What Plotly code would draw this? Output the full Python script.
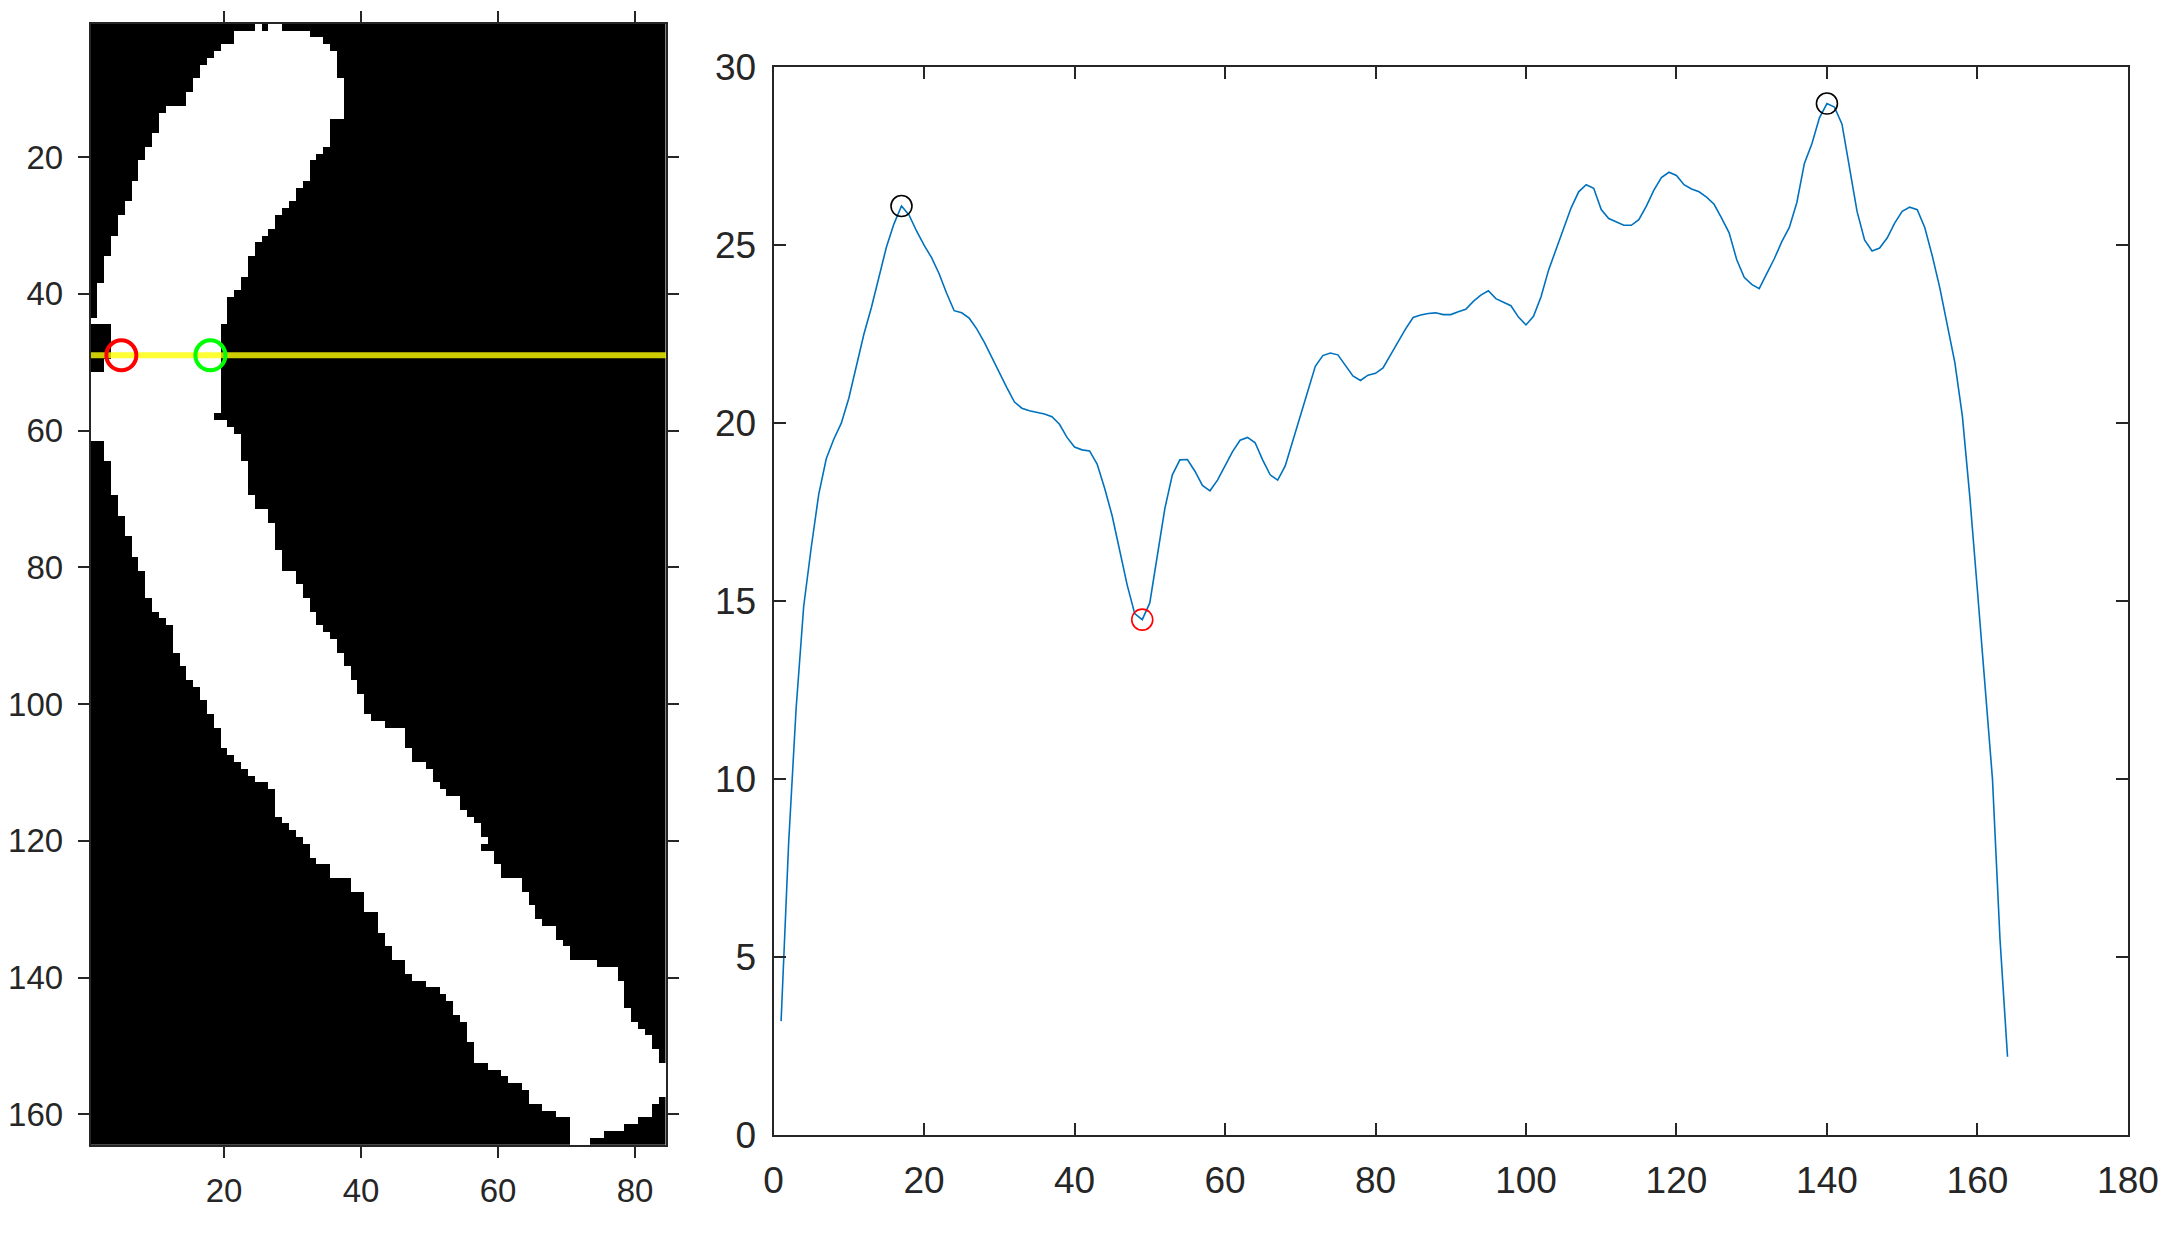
import numpy as np
import plotly.graph_objects as go

# ---------------- data: binary image (per-row white span, 1-based columns) ----------------
n_rows, n_cols = 164, 84
left_edge = [
    25, 22, 22, 20, 19, 18, 17, 17, 16, 16,
    15, 15, 12, 11, 11, 11, 10, 10, 9, 9,
    8, 8, 8, 7, 7, 7, 6, 6, 5, 5,
    5, 4, 4, 4, 3, 3, 3, 3, 2, 2,
    2, 2, 2, 1, 4, 4, 4, 4, 4, 3,
    3, 1, 1, 1, 1, 1, 1, 1, 1, 1,
    1, 3, 3, 3, 4, 4, 4, 4, 4, 5,
    5, 5, 6, 6, 6, 7, 7, 7, 8, 8,
    9, 9, 9, 9, 10, 10, 11, 12, 13, 13,
    13, 13, 14, 14, 15, 15, 16, 17, 17, 18,
    18, 19, 19, 20, 20, 20, 21, 22, 23, 24,
    25, 27, 28, 28, 28, 28, 29, 30, 31, 32,
    33, 33, 34, 36, 36, 39, 39, 41, 41, 41,
    43, 43, 43, 44, 44, 45, 45, 47, 47, 48,
    50, 52, 53, 54, 54, 55, 56, 56, 56, 57,
    57, 57, 59, 61, 62, 64, 65, 65, 67, 69,
    71, 71, 71, 71,
]
right_edge = [
    28, 32, 34, 35, 36, 36, 36, 36, 37, 37,
    37, 37, 37, 37, 35, 35, 35, 35, 34, 33,
    32, 32, 32, 31, 30, 30, 29, 28, 27, 27,
    26, 25, 24, 24, 23, 23, 23, 22, 22, 21,
    20, 20, 20, 20, 19, 19, 19, 19, 19, 19,
    19, 19, 19, 19, 19, 19, 19, 18, 20, 21,
    22, 22, 22, 22, 23, 23, 23, 23, 23, 24,
    24, 26, 26, 27, 27, 27, 27, 28, 28, 28,
    30, 30, 31, 31, 32, 32, 33, 33, 34, 35,
    36, 36, 37, 37, 38, 38, 39, 39, 40, 40,
    40, 41, 43, 46, 46, 46, 47, 47, 49, 50,
    50, 51, 52, 54, 54, 55, 56, 57, 57, 58,
    57, 59, 59, 60, 60, 63, 63, 64, 64, 65,
    65, 66, 68, 68, 69, 70, 70, 74, 77, 77,
    78, 78, 78, 78, 79, 79, 80, 81, 82, 82,
    83, 83, 84, 84, 84, 84, 84, 83, 82, 82,
    80, 78, 75, 73,
]
hole_rows = [1]
hole_cols = [26]

# scan line and its two edge points
profile_row = 49
edge_left_col = 5
edge_right_col = 18

# ---------------- data: profile curve ----------------
profile = [
    3.2, 8.2, 12.0, 14.85, 16.5, 18.0, 19.0, 19.55, 20.0, 20.7,
    21.6, 22.5, 23.25, 24.1, 24.95, 25.6, 26.1, 25.85, 25.4, 25.0,
    24.65, 24.2, 23.65, 23.16, 23.1, 22.95, 22.65, 22.28, 21.85, 21.4,
    21.0, 20.6, 20.42, 20.35, 20.3, 20.26, 20.18, 19.97, 19.6, 19.33,
    19.25, 19.22, 18.85, 18.17, 17.4, 16.45, 15.45, 14.65, 14.48, 14.95,
    16.3, 17.6, 18.55, 18.97, 18.98, 18.65, 18.25, 18.1, 18.4, 18.8,
    19.2, 19.52, 19.6, 19.45, 18.97, 18.55, 18.4, 18.8, 19.5, 20.2,
    20.93, 21.6, 21.9, 21.97, 21.92, 21.62, 21.33, 21.2, 21.35, 21.4,
    21.55, 21.92, 22.3, 22.65, 22.97, 23.04, 23.08, 23.1, 23.05, 23.05,
    23.13, 23.2, 23.42, 23.6, 23.72, 23.5, 23.4, 23.3, 22.98, 22.76,
    23.0, 23.55, 24.3, 24.9, 25.5, 26.05, 26.5, 26.7, 26.6, 26.0,
    25.75, 25.65, 25.56, 25.56, 25.72, 26.1, 26.55, 26.9, 27.05, 26.96,
    26.7, 26.58, 26.5, 26.35, 26.15, 25.76, 25.35, 24.6, 24.1, 23.9,
    23.78, 24.2, 24.62, 25.1, 25.5, 26.2, 27.3, 27.85, 28.58, 28.98,
    28.88, 28.4, 27.2, 25.95, 25.15, 24.84, 24.92, 25.2, 25.62, 25.95,
    26.07, 26.0, 25.5, 24.7, 23.8, 22.8, 21.7, 20.2, 17.9, 15.3,
    12.6, 10.0, 5.5, 2.2,
]
peak_idx = [17, 140]
valley_idx = [49]

left_xticks = [20, 40, 60, 80]
left_yticks = [20, 40, 60, 80, 100, 120, 140, 160]
right_xticks = [0, 20, 40, 60, 80, 100, 120, 140, 160, 180]
right_yticks = [0, 5, 10, 15, 20, 25, 30]

# ---------------- build ----------------
mask = np.zeros((n_rows, n_cols))
for r in range(n_rows):
    mask[r, left_edge[r] - 1:right_edge[r]] = 1
for r, c in zip(hole_rows, hole_cols):
    mask[r - 1, c - 1] = 0

idx = np.arange(1, len(profile) + 1)
prof = np.array(profile)

AX = '#262626'
FONT = 'Liberation Sans, Arial, sans-serif'

fig = go.Figure()
fig.add_trace(go.Heatmap(
    z=mask, x=np.arange(1, n_cols + 1), y=np.arange(1, n_rows + 1),
    colorscale=[[0, 'black'], [1, 'white']], zmin=0, zmax=1,
    showscale=False, hoverinfo='skip', xaxis='x', yaxis='y'))
fig.add_trace(go.Scatter(
    x=[0.5, n_cols + 0.5], y=[profile_row, profile_row], mode='lines',
    line=dict(color='rgba(255,255,0,0.8)', width=6),
    xaxis='x', yaxis='y', showlegend=False, hoverinfo='skip'))
fig.add_trace(go.Scatter(
    x=[edge_left_col], y=[profile_row], mode='markers',
    marker=dict(symbol='circle-open', size=30, color='#ff0000', line=dict(width=4)),
    xaxis='x', yaxis='y', showlegend=False))
fig.add_trace(go.Scatter(
    x=[edge_right_col], y=[profile_row], mode='markers',
    marker=dict(symbol='circle-open', size=30, color='#00ff00', line=dict(width=4)),
    xaxis='x', yaxis='y', showlegend=False))

fig.add_trace(go.Scatter(
    x=idx, y=prof, mode='lines', line=dict(color='#0072BD', width=1.6),
    xaxis='x2', yaxis='y2', showlegend=False))
pk = np.array(peak_idx)
fig.add_trace(go.Scatter(
    x=pk, y=prof[pk - 1], mode='markers',
    marker=dict(symbol='circle-open', size=21, color='#000000', line=dict(width=1.6)),
    xaxis='x2', yaxis='y2', showlegend=False))
vl = np.array(valley_idx)
fig.add_trace(go.Scatter(
    x=vl, y=prof[vl - 1], mode='markers',
    marker=dict(symbol='circle-open', size=21, color='#ff0000', line=dict(width=1.6)),
    xaxis='x2', yaxis='y2', showlegend=False))

common = dict(showgrid=False, zeroline=False, showline=True, linecolor=AX,
              tickcolor=AX, mirror='ticks', automargin=False)

fig.update_layout(
    width=2183, height=1237,
    margin=dict(l=0, r=0, t=0, b=0, autoexpand=False),
    paper_bgcolor='white', plot_bgcolor='white',
    showlegend=False,
    xaxis=dict(domain=[0.0378, 0.3014], range=[0.5, n_cols + 0.5], anchor='y',
               tickvals=left_xticks, ticks='outside', ticklen=11, tickwidth=1.5,
               linewidth=1.5, ticklabelstandoff=5,
               tickfont=dict(family=FONT, color=AX, size=33), **common),
    yaxis=dict(domain=[0.0808, 0.9873], range=[n_rows + 0.5, 0.5], anchor='x',
               tickvals=left_yticks, ticks='outside', ticklen=11, tickwidth=1.5,
               linewidth=1.5, ticklabelstandoff=8,
               tickfont=dict(family=FONT, color=AX, size=33), **common),
    xaxis2=dict(domain=[0.3507, 0.9711], range=[0, 180], anchor='y2',
                tickvals=right_xticks, ticks='inside', ticklen=12, tickwidth=1.8,
                linewidth=2, ticklabelstandoff=12,
                tickfont=dict(family=FONT, color=AX, size=37), **common),
    yaxis2=dict(domain=[0.0889, 0.9521], range=[0, 30], anchor='x2',
                tickvals=right_yticks, ticks='inside', ticklen=12, tickwidth=1.8,
                linewidth=2, ticklabelstandoff=8,
                tickfont=dict(family=FONT, color=AX, size=37), **common),
)

fig.write_html('out.html')
